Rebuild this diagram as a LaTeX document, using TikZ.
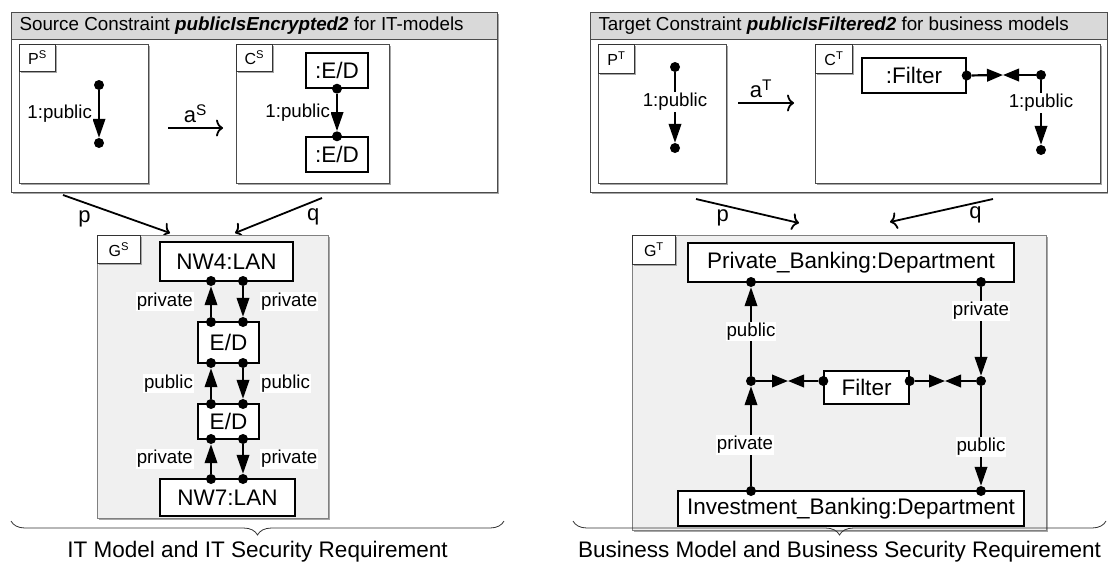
\documentclass[tikz,border=0pt]{standalone}
\usepackage{fontspec}
\setmainfont{Liberation Sans}
\usetikzlibrary{arrows.meta}
\usetikzlibrary{shadows}
\usetikzlibrary{decorations.pathreplacing}

\begin{document}
\begin{tikzpicture}[x=1pt,y=-1pt,
  frame/.style={draw=black!70, line width=1pt},
  boxshadow/.style={general shadow={fill=black!35, shadow xshift=1.5pt, shadow yshift=-1.5pt}},
  tagbox/.style={draw=black!80, fill=white, line width=0.8pt, anchor=north west, inner sep=0pt, font=\fontsize{16}{18}\selectfont, boxshadow},
  obj/.style={draw, fill=white, line width=1.4pt, inner sep=0pt, font=\fontsize{22.5}{26}\selectfont},
  dot/.style={circle, fill=black, inner sep=0pt, minimum size=10pt},
  edge/.style={line width=2.2pt, -{Triangle[length=19pt,width=12.5pt]}},
  meet/.style={line width=2.2pt, -{Triangle[length=16pt,width=12.5pt]}},
  lbl/.style={fill=white, inner sep=1pt, font=\fontsize{18.7}{21}\selectfont},
  map/.style={line width=1.8pt, -{Computer Modern Rightarrow[length=7pt,width=17pt]}},
  maplbl/.style={font=\fontsize{22}{24}\selectfont},
  title/.style={anchor=west, font=\fontsize{18.8}{21}\selectfont},
  sumtext/.style={font=\fontsize{22.5}{26}\selectfont},
  brace/.style={decorate, decoration={brace, mirror, amplitude=14pt}, line width=0.8pt, black!80}
]
\useasboundingbox (0,0) rectangle (1108,563);

% contrainte source
\filldraw[frame, fill=white, boxshadow] (11,12) rectangle (497,192);
\filldraw[frame, fill=black!15] (11,12) rectangle (497,39);
\node[title] (srctitle) at (16,25.5) {Source Constraint \textbf{\textit{publicIsEncrypted2}} for IT-models};

\filldraw[frame, fill=white, boxshadow] (19,44) rectangle (148,183);
\node[tagbox, minimum width=36pt, minimum height=27pt] (ptagS) at (19,44) {P\textsuperscript{S}};
\node[dot] (psA) at (99,85) {};
\node[dot] (psB) at (99,143) {};
\draw[edge] (psA) -- (psB) node[midway, left=5pt, lbl] (psL) {1:public};

\coordinate (aS0) at (168,128);
\coordinate (aS1) at (223,128);
\draw[map] (aS0) -- (aS1) node[midway, above=1pt, maplbl] (aSL) {a\textsuperscript{S}};

\filldraw[frame, fill=white, boxshadow] (236,44) rectangle (389,183);
\node[tagbox, minimum width=36pt, minimum height=27pt] (ctagS) at (236,44) {C\textsuperscript{S}};
\node[obj, minimum width=62pt, minimum height=35pt] (edA) at (337,70.5) {:E/D};
\node[obj, minimum width=62pt, minimum height=35pt] (edB) at (337,154.5) {:E/D};
\node[dot] (csA) at (edA.south) {};
\node[dot] (csB) at (edB.north) {};
\draw[edge] (csA) -- (csB) node[midway, left=5pt, lbl] (csL) {1:public};

% morphismes p et q (gauche)
\coordinate (pS0) at (63,195);  \coordinate (pS1) at (170,233);
\coordinate (qS0) at (322,198); \coordinate (qS1) at (235,233);
\draw[map] (pS0) -- (pS1) node[pos=0.2, below=4pt, maplbl] (pSL) {p};
\draw[map] (qS0) -- (qS1) node[pos=0.1, below=3pt, maplbl] (qSL) {q};

% modele IT
\filldraw[draw=black!50, fill=black!6, line width=1pt, boxshadow] (97,235) rectangle (328,518);
\node[tagbox, minimum width=43pt, minimum height=28pt] (gtagS) at (97,235) {G\textsuperscript{S}};
\node[obj, minimum width=133pt, minimum height=39pt] (nw4) at (226.5,261.5) {NW4:LAN};
\node[obj, minimum width=61pt, minimum height=41pt] (ed1) at (228.5,342.5) {E/D};
\node[obj, minimum width=61pt, minimum height=35pt] (ed2) at (228.5,421.5) {E/D};
\node[obj, minimum width=135pt, minimum height=37pt] (nw7) at (227.5,497.5) {NW7:LAN};
\foreach \n/\y in {a/281, b/322, c/363, d/404, e/439, f/479} {
  \node[dot] (l\n) at (211,\y) {};
  \node[dot] (r\n) at (243,\y) {};
}
\draw[edge] (lb) -- (la) node[midway, left=16pt, lbl] (l1) {private};
\draw[edge] (ra) -- (rb) node[midway, right=16pt, lbl] (r1) {private};
\draw[edge] (ld) -- (lc) node[midway, left=16pt, lbl] (l2) {public};
\draw[edge] (rc) -- (rd) node[midway, right=16pt, lbl] (r2) {public};
\draw[edge] (lf) -- (le) node[midway, left=16pt, lbl] (l3) {private};
\draw[edge] (re) -- (rf) node[midway, right=16pt, lbl] (r3) {private};

% contrainte cible
\filldraw[frame, fill=white, boxshadow] (590,12) rectangle (1107,192);
\filldraw[frame, fill=black!15] (590,12) rectangle (1107,39);
\node[title] (tgttitle) at (595,25.5) {Target Constraint \textbf{\textit{publicIsFiltered2}} for business models};

\filldraw[frame, fill=white, boxshadow] (598,44) rectangle (726,183);
\node[tagbox, minimum width=36pt, minimum height=29pt] (ptagT) at (598,44) {P\textsuperscript{T}};
\node[dot] (ptA) at (675,67) {};
\node[dot] (ptB) at (675,148) {};
\draw[edge] (ptA) -- (ptB) node[pos=0.42, lbl] (ptL) {1:public};

\coordinate (aT0) at (738,103);
\coordinate (aT1) at (794,103);
\draw[map] (aT0) -- (aT1) node[midway, above=1pt, xshift=-5pt, maplbl] (aTL) {a\textsuperscript{T}};

\filldraw[frame, fill=white, boxshadow] (815,44) rectangle (1100,183);
\node[tagbox, minimum width=37pt, minimum height=29pt] (ctagT) at (815,44) {C\textsuperscript{T}};
\node[obj, minimum width=104pt, minimum height=35pt] (cfilt) at (914,75.5) {:Filter};
\node[dot] (cfD) at (cfilt.east) {};
\node[dot] (cj) at (1041,75) {};
\node[dot] (cb) at (1041,150) {};
\coordinate (mC) at (1003,75);
\draw[meet] (cfD) -- (mC);
\draw[meet] (cj) -- (mC);
\draw[edge] (cj) -- (cb) node[pos=0.35, lbl] (ctL) {1:public};

% morphismes p et q (droite)
\coordinate (pT0) at (696,199); \coordinate (pT1) at (799,223);
\coordinate (qT0) at (993,199); \coordinate (qT1) at (890,222);
\draw[map] (pT0) -- (pT1) node[pos=0.26, below=0pt, maplbl] (pTL) {p};
\draw[map] (qT0) -- (qT1) node[pos=0.17, below=0pt, maplbl] (qTL) {q};

% modele metier
\filldraw[draw=black!50, fill=black!6, line width=1pt, boxshadow] (632,235) rectangle (1046,530);
\node[tagbox, minimum width=43pt, minimum height=29pt] (gtagT) at (632,235) {G\textsuperscript{T}};
\node[obj, minimum width=326pt, minimum height=39pt] (pb) at (851,262.5) {Private\_Banking:Department};
\node[obj, minimum width=346pt, minimum height=35pt] (ib) at (851,508.5) {Investment\_Banking:Department};
\node[obj, minimum width=85pt, minimum height=33pt] (filt) at (866.5,387.5) {Filter};
\node[dot] (pbL) at (751,282) {};
\node[dot] (pbR) at (981,282) {};
\node[dot] (jl) at (751,381) {};
\node[dot] (jr) at (981,381) {};
\node[dot] (ibL) at (751,491) {};
\node[dot] (ibR) at (981,491) {};
\node[dot] (fw) at (filt.west |- jl) {};
\node[dot] (fe) at (filt.east |- jr) {};
\coordinate (mL) at (788,381);
\coordinate (mR) at (945,381);
\draw[edge] (jl) -- (pbL) node[midway, lbl] (gl1) {public};
\draw[edge] (ibL) -- (jl) node[pos=0.41, xshift=-6pt, lbl] (gl2) {private};
\draw[edge] (pbR) -- (jr) node[pos=0.27, lbl] (gr1) {private};
\draw[edge] (jr) -- (ibR) node[pos=0.61, lbl] (gr2) {public};
\draw[meet] (jl) -- (mL);
\draw[meet] (fw) -- (mL);
\draw[meet] (fe) -- (mR);
\draw[meet] (jr) -- (mR);

% accolades
\coordinate (bS0) at (11,521);  \coordinate (bS1) at (504,521);
\coordinate (bT0) at (573,521); \coordinate (bT1) at (1106,521);
\draw[brace] (bS0) -- (bS1);
\draw[brace] (bT0) -- (bT1);
\node[sumtext] (itsum) at (257.5,552) {IT Model and IT Security Requirement};
\node[sumtext] (bizsum) at (839.5,552) {Business Model and Business Security Requirement};
\end{tikzpicture}
\end{document}
